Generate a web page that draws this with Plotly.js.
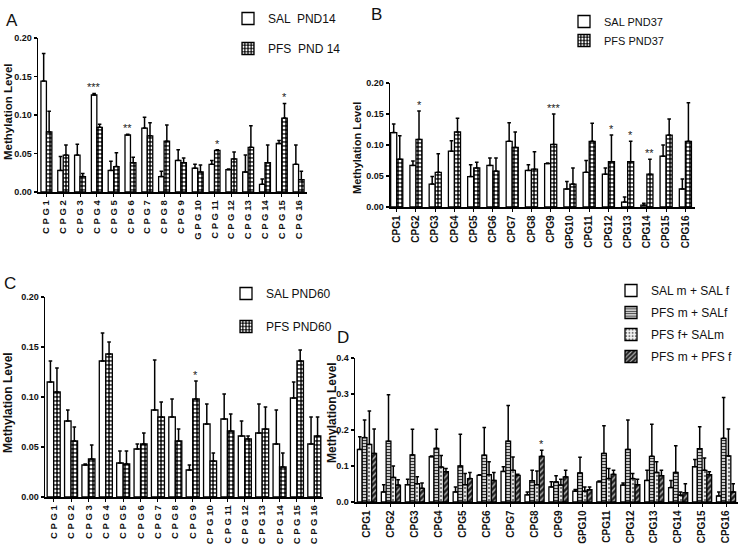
<!DOCTYPE html>
<html>
<head>
<meta charset="utf-8">
<script src="https://cdn.plot.ly/plotly-3.0.1.min.js"></script>
<style>html,body{margin:0;padding:0;background:#fff}#fig{width:740px;height:547px}</style>
</head>
<body>
<div id="fig"></div>
<script>
// Methylation level per CpG site, four panels (A PND14, B PND37, C PND60, D parental crosses)
const catsSpaced = ['C P G 1','C P G 2','C P G 3','C P G 4','C P G 5','C P G 6','C P G 7','C P G 8','C P G 9','G P G 10','C P G 11','C P G 12','C P G 13','C P G 14','C P G 15','C P G 16'];
const catsC = ['C P G 1','C P G 2','C P G 3','C P G 4','C P G 5','C P G 6','C P G 7','C P G 8','C P G 9','C P G 10','C P G 11','C P G 12','C P G 13','C P G 14','C P G 15','C P G 16'];
const cats = ['CPG1','CPG2','CPG3','CPG4','CPG5','CPG6','CPG7','CPG8','CPG9','GPG10','CPG11','CPG12','CPG13','CPG14','CPG15','CPG16'];

// A - PND14
const salA    = [0.144,0.028,0.048,0.126,0.028,0.074,0.083,0.020,0.041,0.031,0.036,0.029,0.026,0.010,0.063,0.036];
const salAErr = [0.036,0.018,0.014,0.002,0.012,0.001,0.014,0.007,0.014,0.005,0.005,0.001,0.022,0.007,0.004,0.025];
const pfsA    = [0.078,0.048,0.020,0.084,0.033,0.038,0.073,0.066,0.038,0.026,0.054,0.043,0.058,0.038,0.096,0.016];
const pfsAErr = [0.027,0.013,0.004,0.004,0.018,0.007,0.017,0.021,0.006,0.009,0.001,0.009,0.028,0.023,0.019,0.011];
const sigA = [[3,0,'***'],[5,0,'**'],[10,1,'*'],[14,1,'*']];

// B - PND37
const salB    = [0.120,0.067,0.037,0.090,0.049,0.067,0.106,0.059,0.070,0.029,0.056,0.053,0.008,0.003,0.082,0.029];
const salBErr = [0.014,0.007,0.012,0.017,0.019,0.012,0.030,0.009,0.001,0.012,0.019,0.010,0.008,0.003,0.018,0.016];
const pfsB    = [0.077,0.109,0.056,0.121,0.063,0.058,0.096,0.061,0.101,0.037,0.106,0.073,0.073,0.053,0.116,0.106];
const pfsBErr = [0.038,0.046,0.030,0.022,0.009,0.021,0.025,0.028,0.049,0.026,0.029,0.043,0.033,0.024,0.026,0.062];
const sigB = [[1,1,'*'],[8,1,'***'],[11,1,'*'],[12,1,'*'],[13,1,'**']];

// C - PND60
const salC    = [0.115,0.076,0.032,0.136,0.034,0.048,0.087,0.080,0.027,0.073,0.078,0.061,0.064,0.053,0.099,0.053];
const salCErr = [0.021,0.011,0.001,0.028,0.012,0.005,0.050,0.018,0.005,0.020,0.025,0.015,0.029,0.034,0.016,0.027];
const pfsC    = [0.105,0.056,0.038,0.143,0.033,0.053,0.080,0.056,0.098,0.036,0.066,0.058,0.068,0.030,0.136,0.061];
const pfsCErr = [0.024,0.014,0.014,0.012,0.013,0.011,0.015,0.012,0.018,0.008,0.017,0.003,0.022,0.014,0.011,0.019];
const sigC = [[8,1,'*']];

// D - crosses
const salD     = [0.146,0.028,0.048,0.126,0.028,0.074,0.085,0.020,0.042,0.030,0.056,0.047,0.060,0.040,0.098,0.017];
const salDErr  = [0.035,0.020,0.015,0.002,0.014,0.002,0.013,0.008,0.014,0.005,0.002,0.006,0.028,0.020,0.020,0.011];
const pfsMD    = [0.179,0.169,0.131,0.149,0.100,0.130,0.169,0.059,0.056,0.081,0.135,0.146,0.127,0.082,0.148,0.177];
const pfsMDErr = [0.049,0.129,0.071,0.053,0.088,0.077,0.099,0.029,0.017,0.043,0.077,0.082,0.089,0.074,0.061,0.113];
const pfsFD    = [0.160,0.068,0.051,0.097,0.048,0.076,0.088,0.048,0.047,0.030,0.065,0.065,0.082,0.019,0.088,0.128];
const pfsFDErr = [0.093,0.032,0.019,0.032,0.031,0.036,0.037,0.038,0.016,0.012,0.028,0.014,0.030,0.009,0.034,0.075];
const pfsMFD   = [0.135,0.047,0.038,0.084,0.065,0.060,0.074,0.127,0.070,0.034,0.077,0.048,0.073,0.026,0.076,0.028];
const pfsMFDErr= [0.068,0.015,0.015,0.009,0.017,0.022,0.003,0.017,0.018,0.008,0.011,0.015,0.015,0.025,0.008,0.023];
const sigD = [[7,3,'*']];

const W = 740, H = 547;
const px = v => v / W, py = v => 1 - v / H;
const narrow = 'Liberation Sans Narrow, Liberation Sans, Arial, sans-serif';
const sans = 'Liberation Sans, Arial, sans-serif';

const styles = {
  sal:  {color:'#ffffff'},
  pfs:  {color:'#111111', pattern:{shape:'.', fgcolor:'#ffffff', bgcolor:'#111111', size:4, solidity:0.4}},
  pm:   {color:'#aaaaaa', pattern:{shape:'-', fgcolor:'#333333', bgcolor:'#dddddd', size:3, solidity:0.4}},
  pf:   {color:'#eeeeee', pattern:{shape:'.', fgcolor:'#777777', bgcolor:'#f6f6f6', size:4, solidity:0.3}},
  pmf:  {color:'#222222', pattern:{shape:'/', fgcolor:'#bbbbbb', bgcolor:'#222222', size:4, solidity:0.35}}
};

function bars(ax, x, y, err, name, legend, st, i, n, grp){
  const w = grp / n;
  return {
    type:'bar', x:x, y:y, name:name, legend:legend, legendgroup:legend+name,
    xaxis:'x'+ax, yaxis:'y'+ax, width:w, offset:-grp/2 + i*w,
    marker:Object.assign({line:{color:'#000', width:1.3}}, st),
    error_y:{type:'data', symmetric:false, array:err, arrayminus:err.map(()=>0), color:'#000', thickness:1.5, width:1.8},
    hoverinfo:'y'
  };
}

const traces = [
  bars('', catsSpaced, salA, salAErr, 'SAL  PND14', 'legend', styles.sal, 0, 2, 0.65),
  bars('', catsSpaced, pfsA, pfsAErr, 'PFS  PND 14', 'legend', styles.pfs, 1, 2, 0.65),
  bars('2', cats, salB, salBErr, 'SAL PND37', 'legend2', styles.sal, 0, 2, 0.63),
  bars('2', cats, pfsB, pfsBErr, 'PFS PND37', 'legend2', styles.pfs, 1, 2, 0.63),
  bars('3', catsC, salC, salCErr, 'SAL PND60', 'legend3', styles.sal, 0, 2, 0.75),
  bars('3', catsC, pfsC, pfsCErr, 'PFS PND60', 'legend3', styles.pfs, 1, 2, 0.75),
  bars('4', cats, salD, salDErr, 'SAL m + SAL f', 'legend4', styles.sal, 0, 4, 0.8),
  bars('4', cats, pfsMD, pfsMDErr, 'PFS m + SALf', 'legend4', styles.pm, 1, 4, 0.8),
  bars('4', cats, pfsFD, pfsFDErr, 'PFS f+ SALm', 'legend4', styles.pf, 2, 4, 0.8),
  bars('4', cats, pfsMFD, pfsMFDErr, 'PFS m + PFS f', 'legend4', styles.pmf, 3, 4, 0.8)
];

const annotations = [];
// significance stars, placed above the error bar of the marked bar
function stars(sig, ax, series, n, grp){
  const w = grp / n;
  sig.forEach(([k, s, txt]) => {
    const top = series[s][0][k] + series[s][1][k];
    annotations.push({xref:'x'+ax, yref:'y'+ax, x:k - grp/2 + s*w + w/2, y:top, xanchor:'center', yanchor:'bottom',
      text:txt, showarrow:false, font:{family:sans, size:11, color:'#222'}, yshift:-2});
  });
}
stars(sigA, '', [[salA,salAErr],[pfsA,pfsAErr]], 2, 0.65);
stars(sigB, '2', [[salB,salBErr],[pfsB,pfsBErr]], 2, 0.63);
stars(sigC, '3', [[salC,salCErr],[pfsC,pfsCErr]], 2, 0.75);
stars(sigD, '4', [[salD,salDErr],[pfsMD,pfsMDErr],[pfsFD,pfsFDErr],[pfsMFD,pfsMFDErr]], 4, 0.8);

// panel letters and y titles
[['A',12,20],['B',376,15],['C',10,283],['D',343,337]].forEach(([t,x,y]) => annotations.push(
  {xref:'paper', yref:'paper', x:px(x), y:py(y), xanchor:'center', yanchor:'middle', text:t, showarrow:false,
   font:{family:sans, size:17, color:'#111'}}));
[[8,112,11.5],[357,148,11],[8,403,12],[332,413,12]].forEach(([x,y,s]) => annotations.push(
  {xref:'paper', yref:'paper', x:px(x), y:py(y), xanchor:'center', yanchor:'middle', text:'Methylation Level',
   textangle:-90, showarrow:false, font:{family:sans, size:s, weight:'bold', color:'#111'}}));

function xax(d0, d1, anchor, r, tf){
  return {domain:[px(d0), px(d1)], anchor:anchor, range:r, showline:true, linecolor:'#000', linewidth:1.5,
    ticks:'outside', ticklen:3, tickwidth:1, tickcolor:'#000', tickangle:-90, showgrid:false, zeroline:false,
    tickfont:Object.assign({color:'#111'}, tf), fixedrange:true};
}
function yax(top, bottom, anchor, r, dt, fmt){
  return {domain:[py(bottom), py(top)], anchor:anchor, range:r, dtick:dt, tickformat:fmt, showline:true,
    linecolor:'#000', linewidth:1.5, ticks:'outside', ticklen:3, tickwidth:1.3, tickcolor:'#000',
    showgrid:false, zeroline:false, tickfont:{family:sans, size:9, weight:'bold', color:'#111'}, fixedrange:true};
}
const tfSpaced = {family:sans, size:9.5, weight:'bold'};
const tfPlain = {family:sans, size:10, weight:'bold'};

function leg(x, y, gap, size){
  return {x:px(x), y:py(y), xanchor:'left', yanchor:'top', bgcolor:'rgba(0,0,0,0)', tracegroupgap:gap,
    font:{family:narrow, size:size, color:'#111'}, itemwidth:30};
}

const layout = {
  width:W, height:H, margin:{l:0, r:0, t:0, b:0}, paper_bgcolor:'#fff', plot_bgcolor:'rgba(0,0,0,0)',
  barmode:'overlay', showlegend:true,
  xaxis: xax(38, 307, 'y', [-0.5, 15.5], tfSpaced),
  yaxis: yax(38, 192, 'x', [0, 0.2], 0.05, '.2f'),
  xaxis2: xax(390, 695, 'y2', [-0.35, 15.5], tfPlain),
  yaxis2: yax(83, 207, 'x2', [0, 0.2], 0.05, '.2f'),
  xaxis3: xax(45, 323, 'y3', [-0.5, 15.5], tfSpaced),
  yaxis3: yax(297, 497, 'x3', [0, 0.2], 0.05, '.2f'),
  xaxis4: xax(355, 738, 'y4', [-0.5, 15.5], tfPlain),
  yaxis4: yax(358, 502, 'x4', [0, 0.4], 0.1, '.1f'),
  legend: leg(228, 4, 11, 12),
  legend2: leg(564, 7, 0, 11),
  legend3: leg(226, 279, 14, 12),
  legend4: leg(611, 276, 3, 12),
  annotations:annotations
};

Plotly.newPlot('fig', traces, layout, {displayModeBar:false, staticPlot:true});
</script>
</body>
</html>
